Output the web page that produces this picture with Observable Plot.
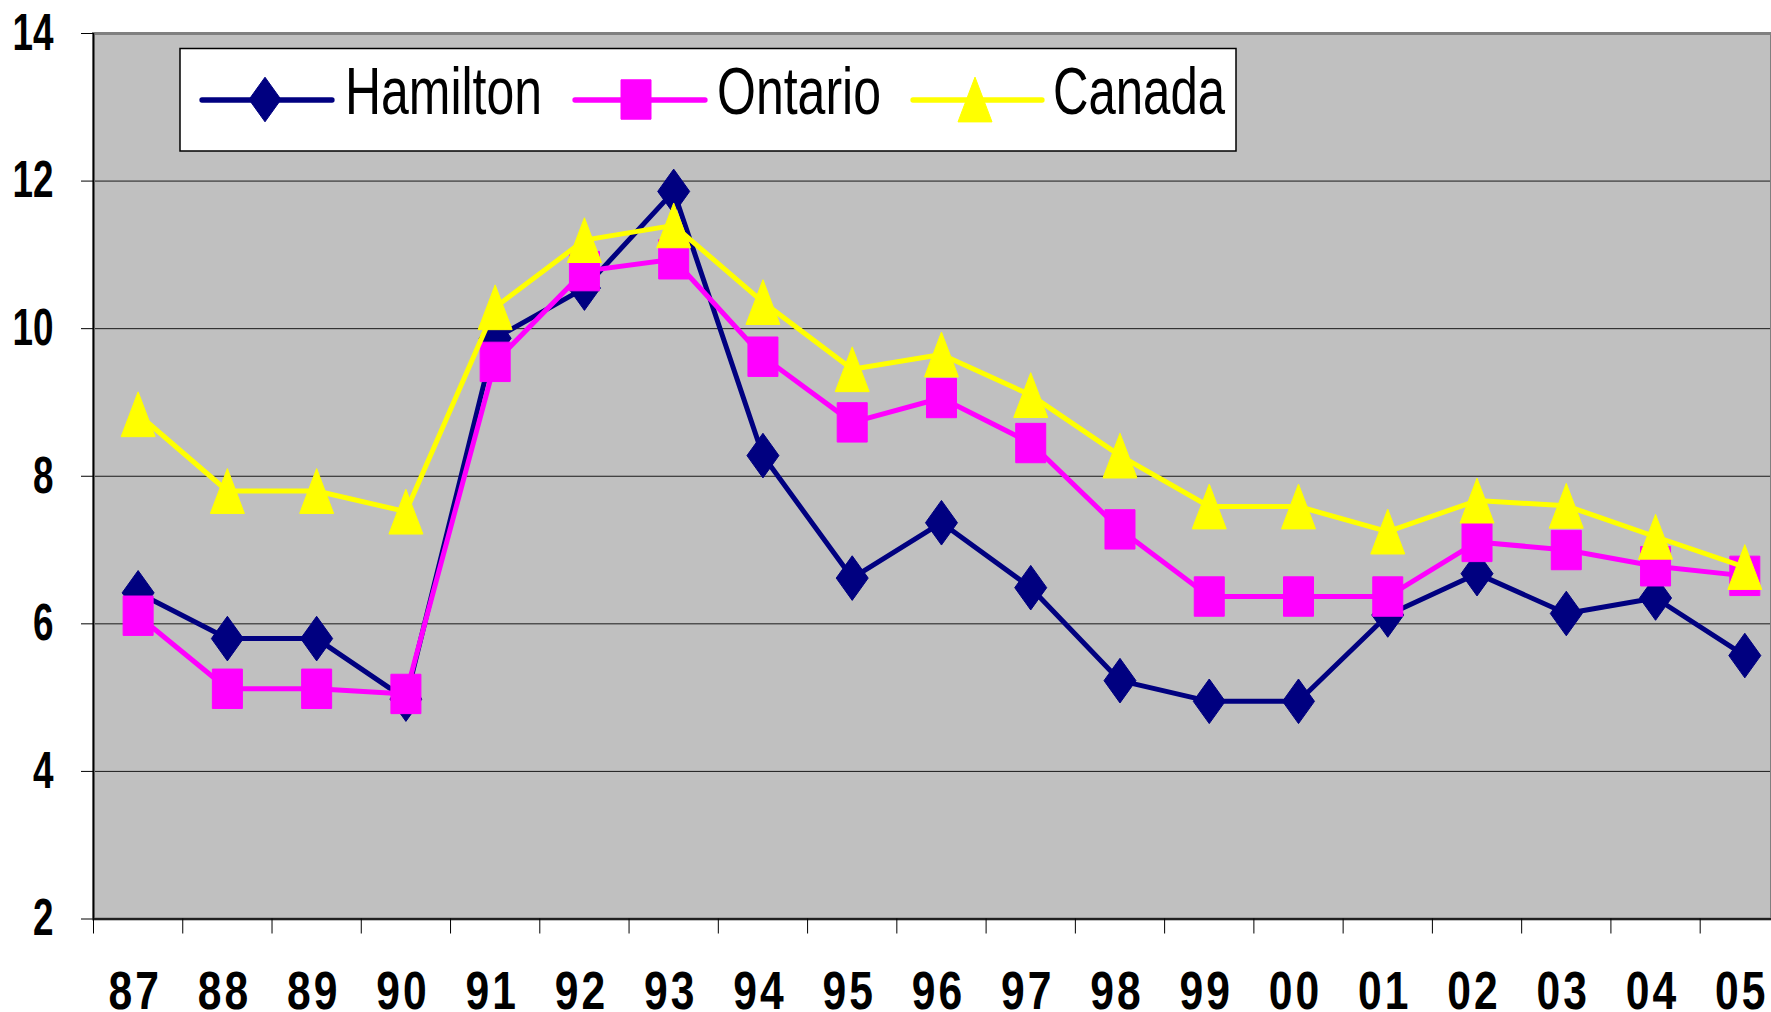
<!DOCTYPE html>
<html>
<head>
<meta charset="utf-8">
<script src="https://cdn.jsdelivr.net/npm/d3@7"></script>
<script src="https://cdn.jsdelivr.net/npm/@observablehq/plot@0.6"></script>
<style>
  html, body { margin: 0; padding: 0; background: #fff; overflow: hidden; }
  #wrap { position: relative; width: 1771px; height: 1012px; }
  #legend { position: absolute; left: 0; top: 0; pointer-events: none; }
</style>
</head>
<body>
<div id="wrap"></div>
<script>
// ---- Data ----
const years = ["87","88","89","90","91","92","93","94","95","96","97","98","99","00","01","02","03","04","05"];
const hamilton = [6.42, 5.80, 5.80, 4.98, 9.87, 10.55, 11.86, 8.28, 6.62, 7.37, 6.49, 5.23, 4.95, 4.95, 6.12, 6.68, 6.14, 6.35, 5.57];
const ontario  = [6.11, 5.12, 5.12, 5.05, 9.55, 10.78, 10.94, 9.62, 8.73, 9.06, 8.45, 7.28, 6.37, 6.37, 6.37, 7.11, 7.00, 6.78, 6.65];
const canada   = [8.84, 7.80, 7.80, 7.52, 10.29, 11.20, 11.40, 10.36, 9.45, 9.65, 9.10, 8.28, 7.59, 7.59, 7.25, 7.67, 7.60, 7.18, 6.77];
const seriesNames = ["Hamilton", "Ontario", "Canada"];
const seriesColors = ["#000080", "#FF00FF", "#FFFF00"];
const yTicks = [2, 4, 6, 8, 10, 12, 14];
const gridValues = [4, 6, 8, 10, 12];

// ---- Marker shapes (Excel-like, slightly tall) ----
const diamond = {draw(c) { c.moveTo(0, -22.3); c.lineTo(16, 0); c.lineTo(0, 22.3); c.lineTo(-16, 0); c.closePath(); }};
const square = {draw(c) { c.moveTo(-15, -19.7); c.lineTo(15, -19.7); c.lineTo(15, 19.7); c.lineTo(-15, 19.7); c.closePath(); }};
const triangle = {draw(c) { c.moveTo(0, -22.4); c.lineTo(17, 22.4); c.lineTo(-17, 22.4); c.closePath(); }};
const symbols = [diamond, square, triangle];

const seriesValues = [hamilton, ontario, canada];
const tables = seriesValues.map((vals, k) =>
  vals.map((v, i) => ({i, year: years[i], value: v, series: seriesNames[k]})));

const W = 1771, H = 1012;
const band = 89.26, x0 = 93;
const axisFont = "'Liberation Sans', Arial, Helvetica, sans-serif";

const seriesMarks = tables.flatMap((t, k) => [
  Plot.line(t, {x: d => d.i + 0.5, y: "value", stroke: seriesColors[k], strokeWidth: 5, strokeLinejoin: "round"}),
  Plot.dot(t, {x: d => d.i + 0.5, y: "value", symbol: symbols[k], fill: seriesColors[k], stroke: seriesColors[k], strokeWidth: 1, strokeLinejoin: "round"})
]);

const svg = Plot.plot({
  width: W,
  height: H,
  marginLeft: x0,
  marginRight: 0,
  marginTop: 33,
  marginBottom: 93.5,
  style: {fontFamily: axisFont, background: "#fff", color: "#000"},
  x: {type: "linear", domain: [0, years.length], range: [x0, x0 + years.length * band]},
  y: {domain: [2, 14]},
  marks: [
    Plot.frame({fill: "#C0C0C0"}),
    Plot.ruleY(gridValues, {stroke: "#1a1a1a", strokeWidth: 1}),
    Plot.frame({stroke: "#808080", strokeWidth: 3}),
    Plot.ruleX([0], {stroke: "#000", strokeWidth: 1.5}),
    Plot.ruleY([2], {stroke: "#000", strokeWidth: 1.5}),
    ...seriesMarks,
    Plot.axisY({ticks: yTicks, label: null, tickSize: 12, tickPadding: 28, stroke: "#000", fontSize: 51, fontWeight: "bold", fill: "#000"}),
    Plot.axisX({ticks: d3.range(years.length + 1), label: null, tickSize: 15, tickFormat: () => "", stroke: "#000"}),
    Plot.axisX({ticks: d3.range(years.length).map(i => i + 0.5), label: null, tickFormat: d => years[Math.floor(d)], tickSize: 0, tickPadding: 52, fontSize: 53.5, fontWeight: "bold", fill: "#000", dx: -3})
  ]
});

// Narrow, spaced bold labels like the original (kept as real text)
d3.select(svg).selectAll('g[aria-label="x-axis tick label"] text').each(function() {
  const t = this.textContent;
  if (t) d3.select(this).attr("font-size", 53.5).attr("font-weight", "bold")
    .attr("letter-spacing", 3.8)
    .attr("textLength", t.length * 26.7).attr("lengthAdjust", "spacingAndGlyphs");
});
d3.select(svg).selectAll('g[aria-label="y-axis tick label"] text').each(function() {
  const t = this.textContent;
  if (t) d3.select(this).attr("textLength", t.length * 20.5).attr("lengthAdjust", "spacingAndGlyphs")
    .attr("font-size", 51).attr("font-weight", "bold");
});

const wrap = document.getElementById("wrap");
wrap.appendChild(svg);

// ---- Legend (inside the plot area, top-left) ----
const legendLayout = [
  {lx1: 202, lx2: 332, mx: 265, tx: 345, tl: 197},
  {lx1: 575, lx2: 705, mx: 636, tx: 717, tl: 164},
  {lx1: 913, lx2: 1042, mx: 975, tx: 1053, tl: 172}
];
const leg = d3.select(wrap).append("svg").attr("id", "legend").attr("width", W).attr("height", H);
leg.append("rect").attr("x", 180).attr("y", 48.5).attr("width", 1056).attr("height", 102.5)
  .attr("fill", "#fff").attr("stroke", "#000").attr("stroke-width", 1.5);
seriesNames.forEach((name, k) => {
  const L = legendLayout[k];
  leg.append("line").attr("x1", L.lx1).attr("x2", L.lx2).attr("y1", 100).attr("y2", 100)
    .attr("stroke", seriesColors[k]).attr("stroke-width", 5.3).attr("stroke-linecap", "round");
  leg.append("path").attr("d", d3.symbol(symbols[k])()).attr("transform", `translate(${L.mx},99.5)`)
    .attr("fill", seriesColors[k]).attr("stroke", seriesColors[k]).attr("stroke-width", 1).attr("stroke-linejoin", "round");
  leg.append("text").attr("x", L.tx).attr("y", 113.5).text(name)
    .attr("font-family", axisFont).attr("font-size", 66).attr("fill", "#000")
    .attr("textLength", L.tl).attr("lengthAdjust", "spacingAndGlyphs");
});
</script>
</body>
</html>
